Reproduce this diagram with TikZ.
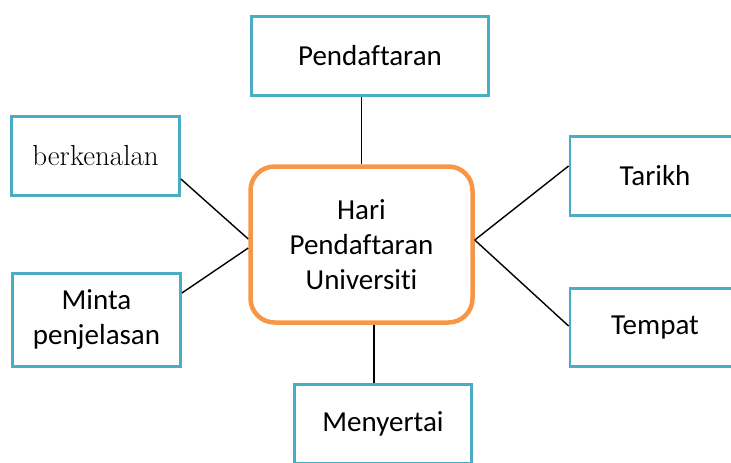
\documentclass[tikz,border=0pt]{standalone}
\usepackage{fontspec}
\setmainfont{Carlito}[Ligatures=NoCommon]
\newfontfamily\serifbox{Latin Modern Roman}
\definecolor{tealbox}{HTML}{4BACC6}
\definecolor{orangebox}{HTML}{F79646}
\begin{document}
\begin{tikzpicture}[x=1pt,y=-1pt,
  leaf/.style={draw=tealbox, line width=2.8pt, fill=white, align=center, inner sep=0pt,
    font=\fontsize{29}{35}\selectfont},
  hub/.style={draw=orangebox, line width=4.5pt, rounded corners=24pt, fill=white, align=center,
    inner sep=0pt, minimum width=222pt, minimum height=156pt, font=\fontsize{29}{35}\selectfont},
  link/.style={draw=black, line width=1.4pt}]
\useasboundingbox (0,0) rectangle (731,463);
\node[hub] (ctr) at (361.5,244.5) {Hari\\Pendaftaran\\Universiti};
\node[leaf, minimum width=237pt, minimum height=79pt] (pend) at (370,56) {Pendaftaran};
\node[leaf, minimum width=168pt, minimum height=79pt, font=\serifbox\fontsize{29}{35}\selectfont] (berk) at (95.5,156) {berkenalan};
\node[leaf, minimum width=168pt, minimum height=93pt] (minta) at (96.5,320) {Minta\\penjelasan};
\node[leaf, minimum width=170pt, minimum height=79pt] (tarikh) at (655,176) {Tarikh};
\node[leaf, minimum width=170pt, minimum height=78pt] (tempat) at (655,327.5) {Tempat};
\node[leaf, minimum width=177pt, minimum height=79pt] (meny) at (383,424) {Menyertai};
\draw[link] (pend.south -| ctr.north) -- (ctr.north);
\draw[link] ([xshift=12.5pt]ctr.south) -- ([xshift=-9pt]meny.north);
\draw[link] ([yshift=-23pt]berk.east) -- ([yshift=5.5pt]ctr.west);
\draw[link] ([yshift=27pt]minta.east) -- ([yshift=-3.5pt]ctr.west);
\draw[link] ([yshift=4.5pt]ctr.east) -- ([yshift=10pt]tarikh.west);
\draw[link] ([yshift=4.5pt]ctr.east) -- ([yshift=1.5pt]tempat.west);
\end{tikzpicture}
\end{document}
